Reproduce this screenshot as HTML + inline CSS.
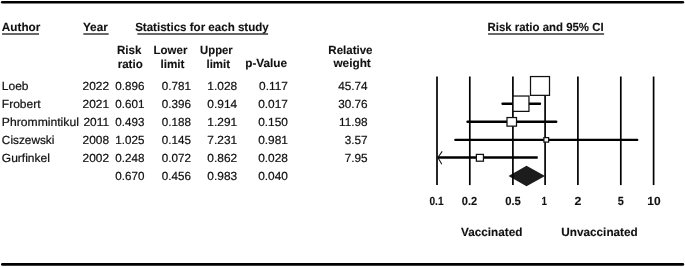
<!DOCTYPE html><html><head><meta charset="utf-8"><style>html,body{margin:0;padding:0;background:#fff;overflow:hidden;}svg{display:block;}text{font-family:"Liberation Sans",sans-serif;font-size:12px;fill:#111;stroke:#111;stroke-width:0.22px;text-rendering:geometricPrecision;}.b{font-weight:bold;stroke-width:0.12px;}</style></head><body>
<svg width="685" height="267" viewBox="0 0 685 267">
<g id="bars">
<line x1="2.3" y1="2.25" x2="682.8" y2="2.25" stroke="#000" stroke-width="2.7" stroke-linecap="round"/>
<line x1="2.4" y1="264.45" x2="682.8" y2="264.45" stroke="#000" stroke-width="2.8" stroke-linecap="round"/>
</g>
<rect x="2.1" y="33.2" width="36.9" height="1.6" fill="#444"/>
<rect x="83.3" y="33.2" width="25.4" height="1.6" fill="#444"/>
<rect x="137.3" y="33.2" width="130.8" height="1.6" fill="#444"/>
<rect x="488.1" y="33.2" width="116.0" height="1.6" fill="#444"/>
<g id="texts" opacity="0.999">
<text id="h1" class="b" transform="matrix(0.9790 0.0002 0 0.98 1.83 31.3)">Author</text>
<text id="h2" class="b" transform="matrix(0.9807 0.0002 0 0.98 82.88 31.3)">Year</text>
<text id="h3" class="b" transform="matrix(0.9635 0.0002 0 0.98 135.13 31.3)">Statistics for each study</text>
<text id="h4" class="b" transform="matrix(0.9509 0.0002 0 0.98 487.51 31.3)">Risk ratio and 95% CI</text>
<text id="s1" class="b" transform="matrix(0.9639 0.0002 0 0.98 116.94 54.0)">Risk</text>
<text id="s2" class="b" transform="matrix(0.9651 0.0002 0 0.98 117.65 67.5)">ratio</text>
<text id="s3" class="b" transform="matrix(0.9554 0.0002 0 0.98 153.58 54.0)">Lower</text>
<text id="s4" class="b" transform="matrix(0.9760 0.0002 0 0.98 160.40 67.6)">limit</text>
<text id="s5" class="b" transform="matrix(0.9396 0.0002 0 0.98 200.11 54.0)">Upper</text>
<text id="s6" class="b" transform="matrix(0.9554 0.0002 0 0.98 206.49 67.6)">limit</text>
<text id="s7" class="b" transform="matrix(0.9817 0.0002 0 0.98 245.21 67.2)">p-Value</text>
<text id="s8" class="b" transform="matrix(0.9589 0.0002 0 0.98 328.37 54.1)">Relative</text>
<text id="s9" class="b" transform="matrix(0.9836 0.0002 0 0.98 333.42 67.0)">weight</text>
<text id="a0" class="b" transform="matrix(0.8436 0.0002 0 0.98 429.48 204.6)">0.1</text>
<text id="a1" class="b" transform="matrix(0.9222 0.0002 0 0.98 461.86 204.6)">0.2</text>
<text id="a2" class="b" transform="matrix(0.9369 0.0002 0 0.98 505.13 204.6)">0.5</text>
<text id="a3" class="b" transform="matrix(0.8200 0.0002 0 0.98 541.57 204.6)">1</text>
<text id="a4" class="b" transform="matrix(1.0277 0.0002 0 0.98 574.58 204.6)">2</text>
<text id="a5" class="b" transform="matrix(0.9042 0.0002 0 0.98 617.80 204.6)">5</text>
<text id="a6" class="b" transform="matrix(0.9928 0.0002 0 0.98 647.29 204.6)">10</text>
<text id="v1" class="b" transform="matrix(0.9799 0.0002 0 0.98 460.97 236.1)">Vaccinated</text>
<text id="v2" class="b" transform="matrix(0.9796 0.0002 0 0.98 561.30 236.1)">Unvaccinated</text>
<text id="r0c0" transform="matrix(1.0000 0.0002 0 0.98 1.85 90)">Loeb</text>
<text id="r0c1" text-anchor="end" transform="matrix(0.9900 0.0002 0 0.98 109.00 90)">2022</text>
<text id="r0c2" text-anchor="end" transform="matrix(0.9700 0.0002 0 0.98 144.40 90)">0.896</text>
<text id="r0c3" text-anchor="end" transform="matrix(0.9700 0.0002 0 0.98 191.00 90)">0.781</text>
<text id="r0c4" text-anchor="end" transform="matrix(0.9900 0.0002 0 0.98 237.10 90)">1.028</text>
<text id="r0c5" text-anchor="end" transform="matrix(0.9900 0.0002 0 0.98 287.90 90)">0.117</text>
<text id="r0c6" text-anchor="end" transform="matrix(0.9800 0.0002 0 0.98 367.60 90)">45.74</text>
<text id="r1c0" transform="matrix(1.0000 0.0002 0 0.98 1.85 108)">Frobert</text>
<text id="r1c1" text-anchor="end" transform="matrix(0.9900 0.0002 0 0.98 109.00 108)">2021</text>
<text id="r1c2" text-anchor="end" transform="matrix(0.9700 0.0002 0 0.98 144.40 108)">0.601</text>
<text id="r1c3" text-anchor="end" transform="matrix(0.9700 0.0002 0 0.98 191.00 108)">0.396</text>
<text id="r1c4" text-anchor="end" transform="matrix(0.9900 0.0002 0 0.98 237.10 108)">0.914</text>
<text id="r1c5" text-anchor="end" transform="matrix(0.9900 0.0002 0 0.98 287.90 108)">0.017</text>
<text id="r1c6" text-anchor="end" transform="matrix(0.9800 0.0002 0 0.98 367.60 108)">30.76</text>
<text id="r2c0" transform="matrix(1.0130 0.0002 0 0.98 1.85 126)">Phrommintikul</text>
<text id="r2c1" text-anchor="end" transform="matrix(0.9900 0.0002 0 0.98 109.00 126)">2011</text>
<text id="r2c2" text-anchor="end" transform="matrix(0.9700 0.0002 0 0.98 144.40 126)">0.493</text>
<text id="r2c3" text-anchor="end" transform="matrix(0.9700 0.0002 0 0.98 191.00 126)">0.188</text>
<text id="r2c4" text-anchor="end" transform="matrix(0.9900 0.0002 0 0.98 237.10 126)">1.291</text>
<text id="r2c5" text-anchor="end" transform="matrix(0.9900 0.0002 0 0.98 287.90 126)">0.150</text>
<text id="r2c6" text-anchor="end" transform="matrix(0.9800 0.0002 0 0.98 367.60 126)">11.98</text>
<text id="r3c0" transform="matrix(0.9850 0.0002 0 0.98 1.85 144)">Ciszewski</text>
<text id="r3c1" text-anchor="end" transform="matrix(0.9900 0.0002 0 0.98 109.00 144)">2008</text>
<text id="r3c2" text-anchor="end" transform="matrix(0.9700 0.0002 0 0.98 144.40 144)">1.025</text>
<text id="r3c3" text-anchor="end" transform="matrix(0.9700 0.0002 0 0.98 191.00 144)">0.145</text>
<text id="r3c4" text-anchor="end" transform="matrix(0.9900 0.0002 0 0.98 237.10 144)">7.231</text>
<text id="r3c5" text-anchor="end" transform="matrix(0.9900 0.0002 0 0.98 287.90 144)">0.981</text>
<text id="r3c6" text-anchor="end" transform="matrix(0.9800 0.0002 0 0.98 367.60 144)">3.57</text>
<text id="r4c0" transform="matrix(1.0000 0.0002 0 0.98 1.85 162)">Gurfinkel</text>
<text id="r4c1" text-anchor="end" transform="matrix(0.9900 0.0002 0 0.98 109.00 162)">2002</text>
<text id="r4c2" text-anchor="end" transform="matrix(0.9700 0.0002 0 0.98 144.40 162)">0.248</text>
<text id="r4c3" text-anchor="end" transform="matrix(0.9700 0.0002 0 0.98 191.00 162)">0.072</text>
<text id="r4c4" text-anchor="end" transform="matrix(0.9900 0.0002 0 0.98 237.10 162)">0.862</text>
<text id="r4c5" text-anchor="end" transform="matrix(0.9900 0.0002 0 0.98 287.90 162)">0.028</text>
<text id="r4c6" text-anchor="end" transform="matrix(0.9800 0.0002 0 0.98 367.60 162)">7.95</text>
<text id="r5c2" text-anchor="end" transform="matrix(0.9700 0.0002 0 0.98 144.40 180)">0.670</text>
<text id="r5c3" text-anchor="end" transform="matrix(0.9700 0.0002 0 0.98 191.00 180)">0.456</text>
<text id="r5c4" text-anchor="end" transform="matrix(0.9900 0.0002 0 0.98 237.10 180)">0.983</text>
<text id="r5c5" text-anchor="end" transform="matrix(0.9900 0.0002 0 0.98 287.90 180)">0.040</text>
</g>
<g id="plot">
<path d="M508.5 176.0 L526.5 165.8 L545.0 176.0 L526.5 186.2 Z" fill="#1c1c1c"/>
<line x1="437.0" y1="76.5" x2="437.0" y2="185.1" stroke="#000" stroke-width="1.7"/>
<line x1="469.8" y1="76.5" x2="469.8" y2="185.1" stroke="#000" stroke-width="1.7"/>
<line x1="512.9" y1="76.5" x2="512.9" y2="185.1" stroke="#000" stroke-width="1.7"/>
<line x1="545.1" y1="76.5" x2="545.1" y2="185.1" stroke="#000" stroke-width="1.7"/>
<line x1="577.9" y1="76.5" x2="577.9" y2="185.1" stroke="#000" stroke-width="1.7"/>
<line x1="620.8" y1="76.5" x2="620.8" y2="185.1" stroke="#000" stroke-width="1.7"/>
<line x1="653.6" y1="76.5" x2="653.6" y2="185.1" stroke="#000" stroke-width="1.7"/>
<line x1="534.48" y1="85.95" x2="545.50" y2="85.95" stroke="#000" stroke-width="2.4" stroke-linecap="round"/>
<line x1="502.57" y1="103.8" x2="539.97" y2="103.8" stroke="#000" stroke-width="2.4" stroke-linecap="round"/>
<line x1="467.56" y1="121.7" x2="556.20" y2="121.7" stroke="#000" stroke-width="2.4" stroke-linecap="round"/>
<line x1="455.36" y1="139.85" x2="637.17" y2="139.85" stroke="#000" stroke-width="2.4" stroke-linecap="round"/>
<line x1="437.6" y1="157.45" x2="537.72" y2="157.45" stroke="#000" stroke-width="2.4"/>
<path d="M442.2 151.4 L437.9 157.5 L441.8 164.3" fill="none" stroke="#111" stroke-width="1.05"/>
<rect x="530.50" y="76.55" width="19.00" height="18.80" fill="#fff" stroke="#111" stroke-width="1.25"/>
<rect x="513.05" y="96.03" width="15.90" height="15.35" fill="#fff" stroke="#111" stroke-width="1.25"/>
<rect x="507.00" y="117.55" width="9.50" height="8.60" fill="#fff" stroke="#111" stroke-width="1.25"/>
<rect x="543.90" y="137.60" width="4.70" height="4.50" fill="#fff" stroke="#111" stroke-width="1.25"/>
<rect x="476.38" y="154.40" width="7.05" height="6.80" fill="#fff" stroke="#111" stroke-width="1.25"/>
</g>
</svg></body></html>
